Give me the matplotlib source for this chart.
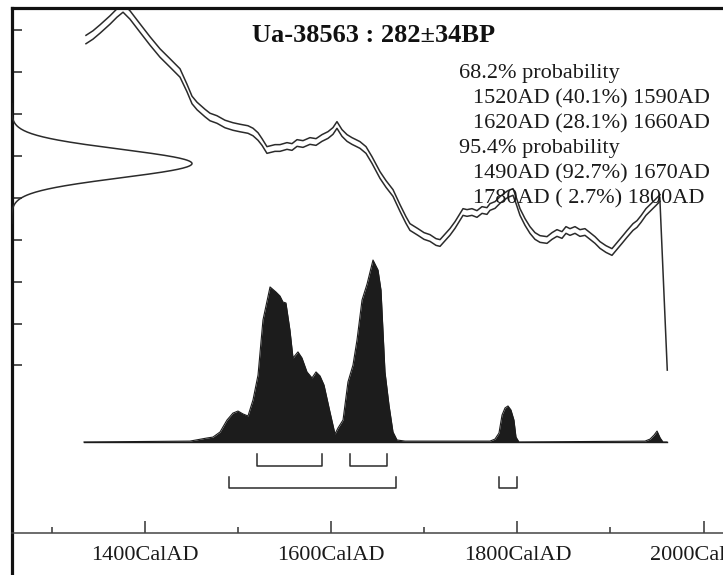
import matplotlib
matplotlib.use("Agg")
import matplotlib.pyplot as plt
import numpy as np

# ---------------- data ----------------
title_text = "Ua-38563 : 282\u00b134BP"
meas_bp = 282
meas_sd = 34

cal_years = [1336.6, 1344.1, 1351.7, 1362.4, 1369.9, 1376.4, 1383.9, 1394.6, 1405.4, 1416.1,
             1426.9, 1437.6, 1445.1, 1450.5, 1455.9, 1464.4, 1469.8, 1477.3, 1485.9, 1494.5,
             1502.0, 1510.6, 1516.0, 1521.4, 1525.7, 1531.0, 1539.6, 1545.0, 1552.5, 1557.9,
             1563.3, 1569.7, 1577.2, 1583.7, 1590.1, 1596.6, 1601.9, 1606.2, 1611.6, 1617.0,
             1622.3, 1626.7, 1630.9, 1637.4, 1643.8, 1652.4, 1658.9, 1666.4, 1673.9, 1680.3,
             1684.6, 1693.2, 1699.7, 1706.1, 1712.6, 1716.9, 1727.6, 1733.0, 1738.3, 1741.6,
             1745.9, 1751.2, 1756.6, 1762.0, 1767.3, 1770.6, 1776.0, 1781.3, 1786.7, 1789.9,
             1795.3, 1798.5, 1802.8, 1808.2, 1813.5, 1818.9, 1824.3, 1831.8, 1837.2, 1842.5,
             1847.9, 1852.2, 1856.5, 1861.9, 1867.2, 1872.6, 1878.0, 1883.4, 1888.7, 1895.1,
             1901.6, 1907.0, 1912.4, 1917.7, 1924.2, 1928.5, 1932.8, 1938.1, 1942.5, 1947.9,
             1953.2]
cal_bp = [578.0, 588.8, 603.1, 624.6, 641.3, 653.2, 636.5, 605.5, 574.5, 545.8,
          522.0, 498.1, 462.3, 433.7, 419.3, 402.6, 393.1, 387.1, 376.4, 370.4,
          366.8, 363.2, 357.3, 346.5, 333.4, 314.3, 319.1, 319.1, 323.9, 321.5,
          331.0, 328.6, 335.8, 333.4, 343.0, 350.1, 359.7, 374.0, 354.9, 343.0,
          335.8, 331.0, 326.3, 314.3, 290.5, 254.7, 233.2, 211.7, 175.9, 147.3,
          130.5, 118.6, 109.1, 104.3, 94.7, 92.4, 118.9, 135.3, 154.4, 166.3,
          164.0, 166.3, 161.6, 171.1, 168.7, 178.3, 183.1, 195.0, 204.5, 209.3,
          214.1, 195.0, 166.3, 142.5, 123.4, 109.1, 101.9, 99.5, 109.1, 116.2,
          111.5, 123.4, 118.6, 123.4, 116.2, 118.6, 109.1, 99.5, 87.6, 78.0,
          70.9, 85.2, 99.5, 113.8, 130.5, 137.7, 149.6, 166.3, 175.9, 187.8,
          199.8]
cal_err = [10, 10, 10, 10, 10, 10, 10, 10, 10, 10,
           10, 10, 9, 9, 9, 9, 9, 9, 9, 9,
           9, 9, 9, 9, 8, 8, 8, 8, 8, 8,
           8, 8, 8, 8, 8, 8, 8, 8, 8, 8,
           8, 8, 8, 8, 8, 8, 8, 8, 8, 8,
           8, 8, 8, 8, 8, 8, 8, 8, 8, 8,
           8, 8, 8, 8, 8, 8, 8, 8, 8, 8,
           8, 8, 8, 8, 8, 8, 8, 8, 8, 8,
           8, 8, 8, 8, 8, 8, 8, 8, 8, 8,
           8, 8, 8, 8, 8, 8, 8, 8, 8, 8,
           8]

link_years = [1953, 1961]
link_bp = [200, -211]

prob_years = [1334.5, 1448.3, 1466.6, 1473.0, 1480.6, 1488.1, 1494.5, 1499.9, 1505.3,
              1510.6, 1516.0, 1521.4, 1526.7, 1534.3, 1540.7, 1545.0, 1548.2, 1551.4,
              1555.7, 1559.0, 1564.3, 1568.6, 1574.0, 1579.4, 1583.7, 1588.0, 1592.3,
              1598.7, 1604.1, 1607.3, 1612.7, 1618.0, 1623.4, 1627.7, 1633.1, 1638.5,
              1644.9, 1650.3, 1653.5, 1657.8, 1662.1, 1666.4, 1670.7, 1679.3, 1770.6,
              1775.9, 1780.2, 1783.5, 1786.7, 1789.9, 1793.1, 1796.3, 1798.5, 1801.7,
              1937.1, 1942.5, 1946.8, 1950.0, 1953.4, 1956.4, 1960.7]
prob_vals = [0.0, 0.005, 0.022, 0.027, 0.055, 0.121, 0.159, 0.170, 0.154,
             0.143, 0.231, 0.368, 0.670, 0.852, 0.824, 0.802, 0.769, 0.764,
             0.615, 0.462, 0.495, 0.462, 0.385, 0.352, 0.385, 0.363, 0.313,
             0.165, 0.044, 0.077, 0.121, 0.330, 0.423, 0.560, 0.780, 0.868,
             1.0, 0.945, 0.835, 0.385, 0.203, 0.055, 0.011, 0.005, 0.005,
             0.016, 0.049, 0.148, 0.187, 0.198, 0.176, 0.121, 0.027, 0.0,
             0.005, 0.016, 0.038, 0.060, 0.022, 0.0, 0.0]

range68 = [(1520, 1590), (1620, 1660)]
range95 = [(1490, 1670), (1780, 1800)]

text_lines = ["68.2% probability",
              "1520AD (40.1%) 1590AD",
              "1620AD (28.1%) 1660AD",
              "95.4% probability",
              "1490AD (92.7%) 1670AD",
              "1780AD ( 2.7%) 1800AD"]
text_indent = [False, True, True, False, True, True]

major_ticks = [1400, 1600, 1800, 2000]
minor_ticks = [1300, 1500, 1700, 1900]
bp_ticks = [-200, -100, 0, 100, 200, 300, 400, 500, 600]

# ---------------- layout ----------------
W, H = 723, 575
fig = plt.figure(figsize=(W / 100, H / 100), dpi=100)
fig.patch.set_facecolor("white")

left_px, right_px, top_px, bot_px = 11.5, 760, 7.5, 590
pos = [left_px / W, 1 - bot_px / H, (right_px - left_px) / W, (bot_px - top_px) / H]

serif = ["Liberation Serif", "DejaVu Serif"]
ink = "#2b2b2b"

ax = fig.add_axes(pos)
ax.set_xlim(1256.6, 2060.6)
ax.set_ylim(-735.8, 654.4)
ax.set_facecolor("none")

ax.spines["right"].set_visible(False)
ax.spines["left"].set_linewidth(2.3)
ax.spines["top"].set_linewidth(2.3)
ax.spines["left"].set_color("#111111")
ax.spines["top"].set_color("#111111")
ax.spines["bottom"].set_position(("data", -600))
ax.spines["bottom"].set_linewidth(1.1)
ax.spines["bottom"].set_color("#444444")

ax.set_xticks(major_ticks)
ax.set_xticklabels([f"{t}CalAD" for t in major_ticks], fontfamily=serif, fontsize=16)
ax.set_xticks(minor_ticks, minor=True)
ax.tick_params(axis="x", which="major", direction="in", length=8.6, width=1.1,
               pad=9.5, colors="#333333", labelcolor="#1a1a1a")
ax.tick_params(axis="x", which="minor", direction="in", length=4, width=1.1, colors="#333333")
ax.set_yticks(bp_ticks)
ax.set_yticklabels([])
ax.tick_params(axis="y", direction="in", length=7.5, width=1.2, colors="#333333")

# calibration curve (two lines: +/- error)
cy = np.array(cal_years, float)
cb = np.array(cal_bp, float)
ce = np.array(cal_err, float)
ax.plot(cy, cb + ce, color=ink, lw=1.1)
ax.plot(cy, cb - ce, color=ink, lw=1.1)
ax.plot(link_years, link_bp, color=ink, lw=1.1)

# measurement Gaussian on the left
axg = fig.add_axes(pos, sharey=ax)
axg.set_xlim(0, (right_px - left_px) / 180.5)
axg.axis("off")
bp = np.linspace(meas_bp - 4.2 * meas_sd, meas_bp + 4.2 * meas_sd, 300)
dens = np.exp(-0.5 * ((bp - meas_bp) / meas_sd) ** 2)
axg.plot(dens, bp, color=ink, lw=1.1)

# probability distribution
axp = fig.add_axes(pos, sharex=ax)
axp.set_ylim(-(bot_px - 442) / 182, 1 + (260 - top_px) / 182)
axp.axis("off")
axp.fill_between(prob_years, 0, prob_vals, color="#1c1c1c", lw=0)
axp.plot(prob_years, prob_vals, color="#1c1c1c", lw=0.8)
axp.plot([prob_years[0], prob_years[-1]], [0, 0], color="#1c1c1c", lw=1.0)

# range brackets
def bracket(a, b, ybase, ytop):
    axp.plot([a, a, b, b], [ytop, ybase, ybase, ytop], color=ink, lw=1.1)

for a, b in range68:
    bracket(a, b, -(465.7 - 442) / 182, -(454 - 442) / 182)
for a, b in range95:
    bracket(a, b, -(488 - 442) / 182, -(477 - 442) / 182)

# texts
fig.text(373.5 / W, 1 - 42 / H, title_text, ha="center", va="baseline",
         fontfamily=serif, fontsize=19, fontweight="bold", color="#111111")
for i, (line, ind) in enumerate(zip(text_lines, text_indent)):
    x = (473 if ind else 459) / W
    y = 1 - (78 + 25 * i) / H
    fig.text(x, y, line, ha="left", va="baseline", fontfamily=serif,
             fontsize=16, color="#1a1a1a")

fig.savefig("out.png", dpi=100, facecolor="white")
